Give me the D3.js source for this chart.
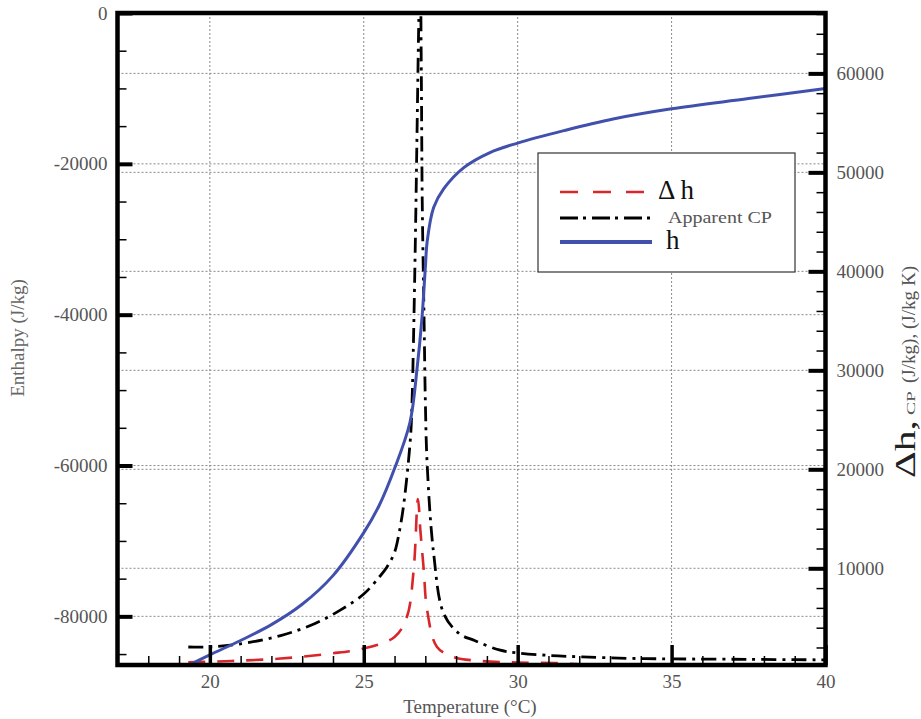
<!DOCTYPE html>
<html>
<head>
<meta charset="utf-8">
<script src="https://cdn.jsdelivr.net/npm/d3@7"></script>
<style>
  body { margin: 0; background: #fff; }
  svg { display: block; font-family: "Liberation Serif", "Times New Roman", serif; }
</style>
</head>
<body>
<div id="chart"></div>
<script>
// enthalpy h (left axis)
const tempH = [19.25, 20, 21, 22, 23, 24, 25, 25.5, 26.0, 26.5, 26.73, 26.89, 27.0, 27.06, 27.27, 27.6, 28.25, 29.1, 30.0, 31.5, 33.1, 35.0, 37.5, 40.0];
const enthalpy = [-86600, -85100, -83200, -81100, -78400, -74600, -68900, -65300, -60400, -54300, -47200, -40500, -33800, -30300, -25800, -23300, -20500, -18500, -17250, -15600, -14050, -12700, -11350, -10000];

// apparent CP (right axis)
const tempCp = [19.3, 20, 20.9, 22.3, 23.4, 24.25, 25.0, 25.5, 25.75, 26.0, 26.15, 26.3, 26.52, 26.57, 26.62, 26.68, 26.73, 26.78, 26.83, 26.87, 26.9, 26.96, 27.0, 27.06, 27.27, 27.6, 28.1, 28.6, 29.4, 30.0, 31.0, 32.1, 33.6, 35.0, 37.5, 40.0];
const apparentCp = [2050, 2050, 2320, 3200, 4400, 5800, 7400, 9100, 10100, 11600, 13600, 16500, 23300, 27000, 33700, 43800, 53900, 64000, 72000, 60000, 47000, 35000, 27000, 20500, 11500, 5400, 3400, 2700, 1750, 1450, 1200, 1050, 900, 850, 800, 750];

// delta h (right axis)
const tempDh = [19.3, 20.7, 22.3, 23.9, 25.0, 26.0, 26.4, 26.62, 26.76, 26.84, 26.95, 27.06, 27.38, 27.92, 28.8, 30.0, 31.3, 32.0];
const deltaH = [500, 640, 880, 1380, 1900, 3060, 5080, 9800, 17000, 13800, 9800, 5760, 2050, 1040, 640, 480, 420, 300];

const xMajor = [20, 25, 30, 35, 40];
const leftMajor = [0, -20000, -40000, -60000, -80000];
const rightMajor = [10000, 20000, 30000, 40000, 50000, 60000];

const width = 921, height = 719;
const svg = d3.select("#chart").append("svg").attr("width", width).attr("height", height);

const x = d3.scaleLinear().domain([17, 40]).range([117.5, 825.5]);
const yL = d3.scaleLinear().domain([-86450, 0]).range([665, 13]);
const yR = d3.scaleLinear().domain([230, 66100]).range([665, 13]);

const x0 = x.range()[0], x1 = x.range()[1];
const yTop = 13, yBot = 665;

// grid
const grid = svg.append("g").attr("stroke", "#8a8a8a").attr("stroke-width", 1).attr("stroke-dasharray", "2,2");
grid.selectAll(".gx").data(xMajor.filter(d => d < 40)).enter().append("line")
  .attr("x1", d => x(d)).attr("x2", d => x(d)).attr("y1", yTop).attr("y2", yBot);
grid.selectAll(".gl").data(leftMajor.filter(d => d < 0)).enter().append("line")
  .attr("x1", x0).attr("x2", x1).attr("y1", d => yL(d)).attr("y2", d => yL(d));
grid.selectAll(".gr").data(rightMajor).enter().append("line")
  .attr("x1", x0).attr("x2", x1).attr("y1", d => yR(d)).attr("y2", d => yR(d));

// curves
svg.append("clipPath").attr("id", "plot").append("rect")
  .attr("x", x0).attr("y", yTop).attr("width", x1 - x0).attr("height", yBot - yTop);
const plot = svg.append("g").attr("clip-path", "url(#plot)").attr("fill", "none");

const curve = d3.curveCatmullRom.alpha(0.5);
const lineL = d3.line().x(d => x(d[0])).y(d => yL(d[1])).curve(curve);
const lineR = d3.line().x(d => x(d[0])).y(d => yR(d[1])).curve(curve);

plot.append("path").datum(d3.zip(tempDh, deltaH)).attr("d", lineR)
  .attr("stroke", "#d8262b").attr("stroke-width", 2.6).attr("stroke-dasharray", "17,12");
plot.append("path").datum(d3.zip(tempCp, apparentCp)).attr("d", lineR)
  .attr("stroke", "#000").attr("stroke-width", 2.8).attr("stroke-dasharray", "15,6,3,6");
plot.append("path").datum(d3.zip(tempH, enthalpy)).attr("d", lineL)
  .attr("stroke", "#4150ad").attr("stroke-width", 3);

// axes
function styleAxis(g, major) {
  g.select(".domain").remove();
  g.selectAll("line").attr("stroke", "#000").attr("stroke-width", major ? 4 : 1.5);
  g.selectAll("text").attr("fill", "#555").attr("font-size", 19).attr("font-family", "Liberation Serif, serif");
}

svg.append("g").attr("transform", `translate(${x0},0)`)
  .call(d3.axisLeft(yL).tickValues(d3.range(-85000, 1, 5000)).tickSize(-9).tickFormat(""))
  .call(g => styleAxis(g, false));
svg.append("g").attr("transform", `translate(${x0},0)`)
  .call(d3.axisLeft(yL).tickValues(leftMajor).tickSize(-15).tickPadding(10).tickFormat(d => d))
  .call(g => styleAxis(g, true));

svg.append("g").attr("transform", `translate(${x1},0)`)
  .call(d3.axisRight(yR).tickValues(d3.range(2000, 66001, 2000)).tickSize(-9).tickFormat(""))
  .call(g => styleAxis(g, false));
svg.append("g").attr("transform", `translate(${x1},0)`)
  .call(d3.axisRight(yR).tickValues(rightMajor).tickSize(-17).tickPadding(11).tickFormat(d => d))
  .call(g => styleAxis(g, true));

svg.append("g").attr("transform", `translate(0,${yBot})`)
  .call(d3.axisBottom(x).tickValues(d3.range(18, 40, 1)).tickSize(-9).tickFormat(""))
  .call(g => styleAxis(g, false));
svg.append("g").attr("transform", `translate(0,${yBot})`)
  .call(d3.axisBottom(x).tickValues(xMajor).tickSize(-20).tickPadding(10).tickFormat(d => d))
  .call(g => styleAxis(g, true))
  .call(g => g.selectAll("line").attr("stroke-width", 3.5));

// frame
svg.append("rect").attr("x", x0).attr("y", yTop).attr("width", x1 - x0).attr("height", yBot - yTop)
  .attr("fill", "none").attr("stroke", "#000").attr("stroke-width", 4.5);

// axis titles
svg.append("text").attr("x", 470).attr("y", 713).attr("text-anchor", "middle")
  .attr("font-size", 19).attr("fill", "#555").text("Temperature (°C)");

svg.append("text").attr("transform", "translate(24,338) rotate(-90)").attr("text-anchor", "middle")
  .attr("font-size", 19).attr("fill", "#666").text("Enthalpy (J/kg)");

const rt = svg.append("text").attr("transform", "translate(915,478) rotate(-90)")
  .attr("fill", "#555");
rt.append("tspan").attr("font-size", 29).attr("fill", "#222")
  .attr("textLength", 58).attr("lengthAdjust", "spacingAndGlyphs").text("Δh,");
rt.append("tspan").attr("font-size", 13).attr("dx", 5)
  .attr("textLength", 24).attr("lengthAdjust", "spacingAndGlyphs").text("CP");
rt.append("tspan").attr("font-size", 18).attr("dx", 8)
  .attr("textLength", 117).attr("lengthAdjust", "spacingAndGlyphs").text("(J/kg), (J/kg K)");

// legend
const lg = svg.append("g");
lg.append("rect").attr("x", 538).attr("y", 153).attr("width", 257).attr("height", 119)
  .attr("fill", "#fff").attr("stroke", "#333").attr("stroke-width", 1.2);

const legendItems = [
  { label: "Δ h", y: 192, color: "#d8262b", dash: "18,15", w: 2.6, x2: 645, size: 27, fill: "#111", tx: 658, len: null },
  { label: "Apparent CP", y: 218, color: "#000", dash: "18,5,3,6", w: 3, x2: 656, size: 17, fill: "#555", tx: 668, len: 104 },
  { label: "h", y: 242, color: "#4150ad", dash: null, w: 4, x2: 652, size: 27, fill: "#111", tx: 666, len: null }
];
lg.selectAll(".li").data(legendItems).enter().append("line")
  .attr("x1", 560).attr("x2", d => d.x2).attr("y1", d => d.y).attr("y2", d => d.y)
  .attr("stroke", d => d.color).attr("stroke-width", d => d.w).attr("stroke-dasharray", d => d.dash);
lg.selectAll(".lt").data(legendItems).enter().append("text")
  .attr("x", d => d.tx).attr("y", d => d.y + (d.size > 20 ? 7 : 5))
  .attr("font-size", d => d.size).attr("fill", d => d.fill)
  .attr("textLength", d => d.len).attr("lengthAdjust", d => d.len ? "spacingAndGlyphs" : null)
  .attr("xml:space", "preserve").text(d => d.label);
</script>
</body>
</html>
